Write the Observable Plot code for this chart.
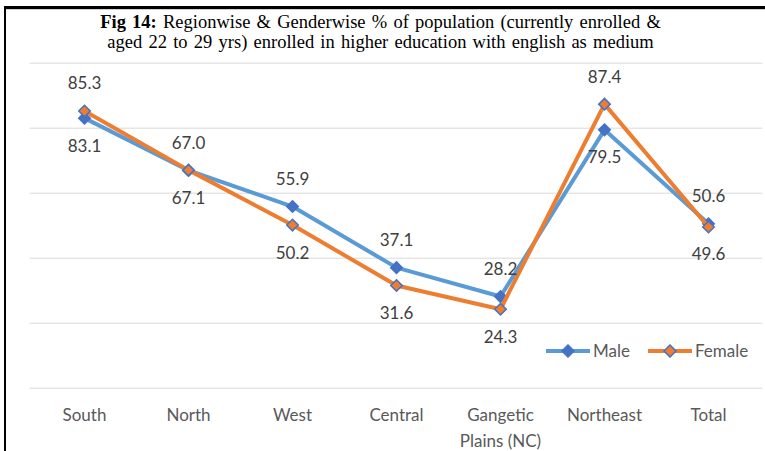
<!DOCTYPE html>
<html>
<head>
<meta charset="utf-8">
<script src="https://cdn.jsdelivr.net/npm/d3@7"></script>
<script src="https://cdn.jsdelivr.net/npm/@observablehq/plot@0.6"></script>
<style>
  html, body { margin: 0; padding: 0; background: #fff; }
  #page { position: relative; width: 765px; height: 451px; overflow: hidden; background: #fff; }
  #frame { position: absolute; left: 4px; top: 6px; width: 761px; height: 445px; box-sizing: border-box;
           border-top: 3px solid #000; border-left: 2px solid #000; box-shadow: inset 0 1px 0 #d0d0d0; }
  #title { position: absolute; left: 0; top: 13px; width: 761px; text-align: center;
           font-family: "Liberation Serif", "Times New Roman", serif; font-size: 18.5px; line-height: 19.5px;
           word-spacing: 1.6px; color: #000; }
  #chart { position: absolute; left: 0; top: 56px; }
  #legend { position: absolute; left: 546px; top: 340px; display: flex; align-items: center;
            font-family: Lato, "Open Sans", sans-serif; font-size: 17px; color: #595959; }
  .item { display: flex; align-items: center; margin-right: 18px; }
  .item svg { display: block; margin-right: 3px; }
</style>
</head>
<body>
<div id="page">
  <div id="frame"></div>
  <div id="title"><b>Fig 14:</b> Regionwise &amp; Genderwise % of population (currently enrolled &amp;<br>aged 22 to 29 yrs) enrolled in higher education with english as medium</div>
  <div id="chart"></div>
  <div id="legend"></div>
</div>
<script>
const categories = ["South", "North", "West", "Central", "Gangetic\nPlains (NC)", "Northeast", "Total"];
const male = [83.1, 67.0, 55.9, 37.1, 28.2, 79.5, 50.6];
const female = [85.3, 67.1, 50.2, 31.6, 24.3, 87.4, 49.6];
const seriesNames = ["Male", "Female"];
const yTicks = [0, 20, 40, 60, 80, 100];
const lineColors = ["#5B9BD5", "#ED7D31"];
const markerFills = ["#4472C4", "#ED7D31"];
const markerStroke = "#4472C4";

const seriesValues = [male, female];
const rows = [];
seriesValues.forEach((vals, si) => {
  vals.forEach((v, i) => {
    const femaleAbove = female[i] - male[i] > 1;
    const above = si === 1 ? femaleAbove : !femaleAbove;
    rows.push({series: seriesNames[si], si, cat: categories[i], value: v, above});
  });
});

const marks = [
  Plot.ruleY(yTicks, {stroke: "#d9d9d9", strokeWidth: 1}),
  Plot.axisX({tickSize: 0, tickPadding: 15, fontSize: 17, color: "#595959", lineHeight: 1.5, label: null})
];
seriesNames.forEach((name, si) => {
  const d = rows.filter(r => r.si === si);
  marks.push(Plot.line(d, {x: "cat", y: "value", stroke: lineColors[si], strokeWidth: 4, strokeLinejoin: "round"}));
  marks.push(Plot.dot(d, {x: "cat", y: "value", symbol: "diamond2", r: 5.2, fill: markerFills[si], stroke: markerStroke, strokeWidth: 1.5}));
});
marks.push(Plot.text(rows.filter(r => r.above), {x: "cat", y: "value", text: r => r.value.toFixed(1), dy: -27, fontSize: 17, fill: "#404040"}));
marks.push(Plot.text(rows.filter(r => !r.above), {x: "cat", y: "value", text: r => r.value.toFixed(1), dy: 28, fontSize: 17, fill: "#404040"}));

const chart = Plot.plot({
  width: 765,
  height: 395,
  marginTop: 6.7,
  marginBottom: 63.3,
  marginLeft: 29.7,
  marginRight: 2.7,
  style: {fontFamily: "Lato, 'Open Sans', sans-serif", background: "transparent", overflow: "visible"},
  x: {type: "point", domain: categories, padding: 0.5, label: null},
  y: {domain: [0, 100], axis: null},
  marks
});
document.getElementById("chart").appendChild(chart);

const legend = document.getElementById("legend");
seriesNames.forEach((name, si) => {
  const item = document.createElement("div");
  item.className = "item";
  item.innerHTML = `<svg width="44" height="14" viewBox="0 0 44 14">
    <line x1="0" y1="7" x2="44" y2="7" stroke="${lineColors[si]}" stroke-width="4"/>
    <path d="M22,1 L28,7 L22,13 L16,7 Z" fill="${markerFills[si]}" stroke="${markerStroke}" stroke-width="1.5"/>
  </svg><span>${name}</span>`;
  legend.appendChild(item);
});
</script>
</body>
</html>
